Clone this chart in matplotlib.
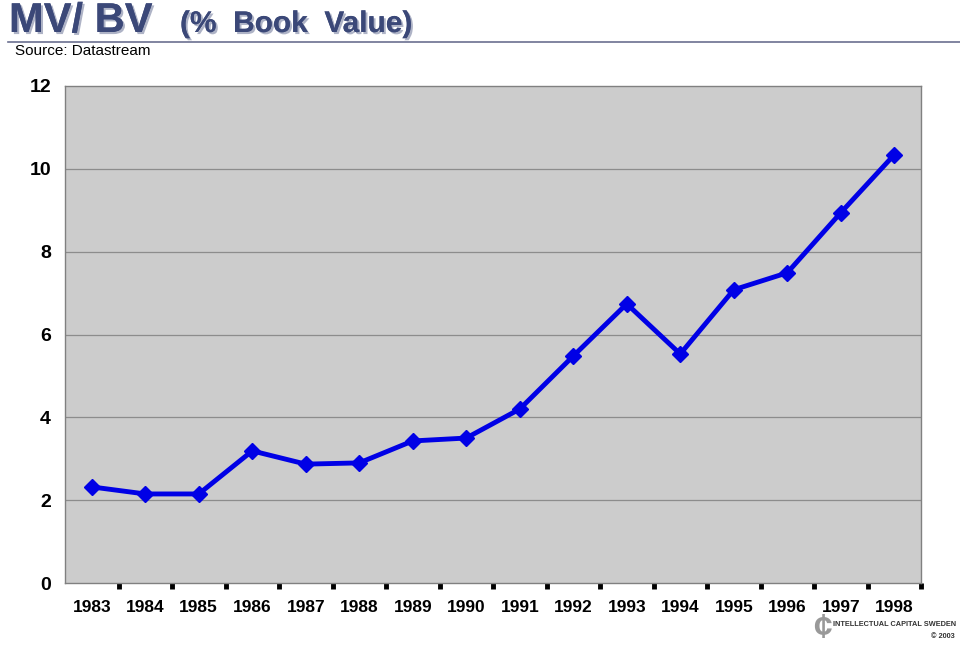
import numpy as np
import matplotlib.pyplot as plt
import matplotlib.patheffects as pe

years = ['1983', '1984', '1985', '1986', '1987', '1988', '1989', '1990',
         '1991', '1992', '1993', '1994', '1995', '1996', '1997', '1998']
mv_bv = [2.32, 2.15, 2.15, 3.19, 2.87, 2.90, 3.43, 3.50,
         4.20, 5.48, 6.74, 5.53, 7.08, 7.49, 8.94, 10.34]
y_ticks = [0, 2, 4, 6, 8, 10, 12]

plt.rcParams['font.family'] = ['Liberation Sans', 'DejaVu Sans']

fig = plt.figure(figsize=(9.6, 6.46), dpi=100)
ax = fig.add_axes([65/960, 1 - 583/646, (921-65)/960, (583-86)/646])

x = np.arange(len(years))
ax.set_facecolor('#cccccc')
ax.plot(x, mv_bv, color='#0000e6', linewidth=3.5, marker='D', markersize=8,
        markerfacecolor='#0000e6', markeredgecolor='#0000e6', zorder=3)

ax.set_xlim(-0.5, len(years) - 0.5)
ax.set_ylim(0, 12)
ax.set_yticks(y_ticks)
ax.set_yticklabels([str(v) for v in y_ticks], fontsize=14, fontweight='bold')
ax.tick_params(axis='y', length=0, pad=10)
for v in y_ticks[1:-1]:
    ax.axhline(v, color='#8c8c8c', linewidth=0.9, zorder=1)

ax.set_xticks(x)
ax.set_xticklabels(years, fontsize=12.5, fontweight='bold')
ax.tick_params(axis='x', which='major', length=0, pad=12)
# square tick marks at category boundaries
ax.set_xticks(np.arange(0.5, len(years)), minor=True)
ax.tick_params(axis='x', which='minor', direction='out', length=4, width=3.5, color='black')
for s in ax.spines.values():
    s.set_color('#808080')
    s.set_linewidth(1)

# header
shadow = [pe.withSimplePatchShadow(offset=(1.5, -1.5), shadow_rgbFace='#9aa0b8', alpha=0.8), pe.Normal()]
fig.text(9/960, 1 - 21/646, 'MV/ BV', fontsize=30, fontweight='bold', color='#3b4878',
         va='center', ha='left', path_effects=shadow)
fig.text(180/960, 1 - 24/646, '(%  Book  Value)', fontsize=21.5, fontweight='bold', color='#3b4878',
         va='center', ha='left', path_effects=shadow)
fig.add_artist(plt.Line2D([8/960, 1], [1 - 42/646, 1 - 42/646], color='#6b7090', linewidth=1.2))
fig.text(15/960, 1 - 51/646, 'Source: Datastream', fontsize=11, color='black', va='center', ha='left')

# logo
fig.text(822/960, 1 - 629/646, '¢', fontsize=24, fontweight='bold', color='#999999',
         va='center', ha='center')
fig.text(956/960, 1 - 624/646, 'INTELLECTUAL CAPITAL SWEDEN', fontsize=5.3, fontweight='bold',
         color='#333333', va='center', ha='right')
fig.text(955/960, 1 - 637/646, '© 2003', fontsize=5.3, fontweight='bold',
         color='#333333', va='center', ha='right')

fig.savefig('out.png', dpi=100)
